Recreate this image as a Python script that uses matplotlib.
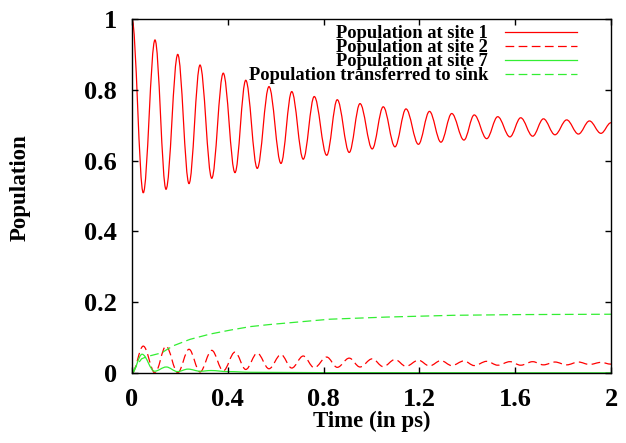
import numpy as np
import matplotlib
matplotlib.use('Agg')
import matplotlib.pyplot as plt
from matplotlib.path import Path
from matplotlib.patches import PathPatch
from matplotlib.lines import Line2D

plt.rcParams['font.family'] = ['Liberation Serif', 'DejaVu Serif']
plt.rcParams['font.weight'] = 'bold'

# turning points (time in ps, population)
site1_t = [0.0, 0.047, 0.096, 0.142, 0.191, 0.238, 0.284, 0.333, 0.381, 0.430, 0.475,
           0.523, 0.572, 0.622, 0.667, 0.715, 0.761, 0.813, 0.857, 0.907, 0.952,
           1.003, 1.049, 1.098, 1.144, 1.196, 1.242, 1.290, 1.335, 1.386, 1.429,
           1.481, 1.527, 1.578, 1.623, 1.673, 1.718, 1.766, 1.815, 1.864, 1.910,
           1.958, 2.0]
site1_p = [1.0, 0.509, 0.941, 0.519, 0.900, 0.535, 0.870, 0.550, 0.847, 0.566, 0.827,
           0.578, 0.809, 0.592, 0.795, 0.604, 0.781, 0.615, 0.772, 0.623, 0.761,
           0.633, 0.752, 0.639, 0.746, 0.646, 0.739, 0.652, 0.733, 0.658, 0.729,
           0.662, 0.724, 0.667, 0.721, 0.669, 0.718, 0.673, 0.715, 0.675, 0.712,
           0.677, 0.707]

site2_t = site1_t
site2_p = [0.0, 0.076, 0.000, 0.076, 0.001, 0.067, 0.003, 0.064, 0.006, 0.059, 0.010,
           0.056, 0.012, 0.052, 0.014, 0.048, 0.015, 0.045, 0.016, 0.042, 0.017,
           0.040, 0.018, 0.038, 0.019, 0.036, 0.020, 0.035, 0.021, 0.034, 0.021,
           0.033, 0.022, 0.032, 0.022, 0.032, 0.023, 0.031, 0.023, 0.031, 0.024,
           0.030, 0.025]

site7_t = [0.0, 0.042, 0.094, 0.143, 0.190, 0.234, 0.285, 0.330, 0.400, 0.500, 0.800, 2.0]
site7_p = [0.0, 0.053, 0.005, 0.017, 0.004, 0.011, 0.005, 0.007, 0.004, 0.002, 0.001, 0.0005]

sink_t = [0.0, 0.02, 0.04, 0.061, 0.124, 0.15, 0.173, 0.242, 0.326, 0.409, 0.493,
          0.576, 0.660, 0.743, 0.827, 1.063, 1.342, 1.62, 2.0]
sink_p = [0.0, 0.022, 0.040, 0.046, 0.057, 0.068, 0.077, 0.095, 0.110, 0.121, 0.131,
          0.137, 0.142, 0.147, 0.152, 0.158, 0.163, 0.165, 0.166]

labels = ['Population at site 1', 'Population at site 2', 'Population at site 7',
          'Population transferred to sink']
xticks = [0, 0.4, 0.8, 1.2, 1.6, 2]
xticklabels = ['0', '0.4', '0.8', '1.2', '1.6', '2']
yticks = [0, 0.2, 0.4, 0.6, 0.8, 1]
yticklabels = ['0', '0.2', '0.4', '0.6', '0.8', '1']

red = '#ff0000'
green = '#33ee33'
dash = (0, (7, 3.5))


def wave_path(t, y, k=0.36):
    # smooth curve with flat tangents at each turning point
    verts = [(t[0], y[0])]
    codes = [Path.MOVETO]
    for i in range(1, len(t)):
        h = t[i] - t[i - 1]
        verts += [(t[i - 1] + k * h, y[i - 1]), (t[i] - k * h, y[i]), (t[i], y[i])]
        codes += [Path.CURVE4] * 3
    return Path(verts, codes)


fig = plt.figure(figsize=(6.26, 4.43), dpi=100)
ax = fig.add_axes([132 / 626, 1 - 373 / 443, 479 / 626, 354 / 443])

ax.add_patch(PathPatch(wave_path(site1_t, site1_p), fill=False, edgecolor=red, lw=0.9))
ax.add_patch(PathPatch(wave_path(site2_t, site2_p), fill=False, edgecolor=red, lw=0.9,
                       linestyle=dash))
ax.add_patch(PathPatch(wave_path(site7_t, site7_p), fill=False, edgecolor=green, lw=0.9))
ax.plot(sink_t, sink_p, color=green, lw=0.9, linestyle=dash)

handles = [Line2D([], [], color=red, lw=0.9),
           Line2D([], [], color=red, lw=0.9, linestyle=dash),
           Line2D([], [], color=green, lw=0.9),
           Line2D([], [], color=green, lw=0.9, linestyle=dash)]
leg = ax.legend(handles, labels, loc='upper right', bbox_to_anchor=(0.9435, 1.003),
                frameon=False, markerfirst=False, fontsize=13.3, handlelength=3.9,
                handletextpad=0.9, labelspacing=-0.16, borderaxespad=0.0)
for txt in leg.get_texts():
    txt.set_fontweight('bold')

ax.set_xlim(0, 2)
ax.set_ylim(0, 1)
ax.set_xticks(xticks)
ax.set_xticklabels(xticklabels)
ax.set_yticks(yticks)
ax.set_yticklabels(yticklabels)
ax.tick_params(direction='in', length=4.5, width=1.0, top=True, right=True,
               labelsize=19, pad=11)
for lab in ax.get_xticklabels() + ax.get_yticklabels():
    lab.set_fontweight('bold')
for s in ax.spines.values():
    s.set_linewidth(1.0)

ax.set_xlabel('Time (in ps)', fontsize=16.5, fontweight='bold')
ax.set_ylabel('Population', fontsize=16.5, fontweight='bold')
ax.xaxis.set_label_coords(0.5, -0.108)
ax.yaxis.set_label_coords(-0.211, 0.525)

fig.savefig('out.png', dpi=100)
